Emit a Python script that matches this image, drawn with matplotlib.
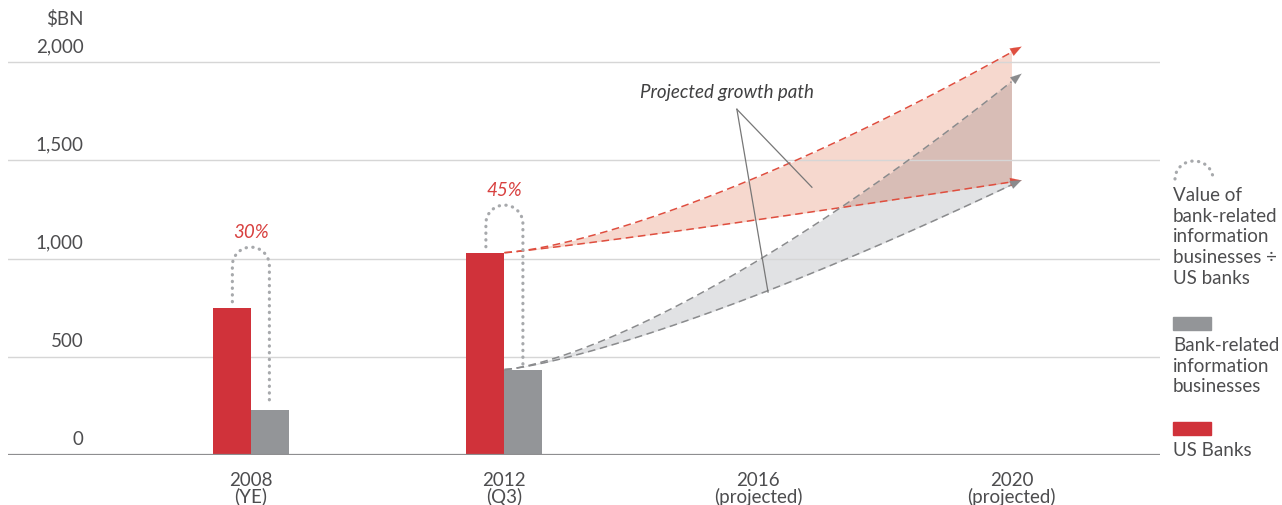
import numpy as np
import matplotlib.pyplot as plt

plt.rcParams['font.family'] = ['Lato', 'DejaVu Sans']

# data
years = ['2008\n(YE)', '2012\n(Q3)', '2016\n(projected)', '2020\n(projected)']
us_banks = [750, 1030]
info_biz = [230, 435]
ratio_labels = ['30%', '45%']
yticks = [0, 500, 1000, 1500, 2000]

# projected end points for 2020 (low, high)
red_proj = [1390, 2050]
gray_proj = [1375, 1900]

RED = '#D0323A'
GRAY = '#939598'
TXT = '#4D4D4F'
FS = 13.5

fig = plt.figure(figsize=(12.82, 5.06), dpi=100)
ax = fig.add_axes([8 / 1282, 50 / 506, 1152 / 1282, 442 / 506])
ax.set_xlim(-0.958, 3.586)
ax.set_ylim(0, 2250)
for s in ax.spines.values():
    s.set_visible(False)
ax.set_xticks([])
ax.set_yticks([])

# grid lines + labels above them
for v in yticks:
    if v == 0:
        ax.axhline(v, color='#8E8E90', lw=1.6, zorder=3)
    else:
        ax.axhline(v, color='#D6D6D6', lw=1.0, zorder=1)
    ax.text(-0.66, v + 40, f'{v:,}', ha='right', va='bottom', fontsize=FS, color=TXT)
ax.text(-0.66, 2180, '$BN', ha='right', va='bottom', fontsize=FS, color=TXT)

x = np.arange(len(years))
w = 0.15
ax.bar(x[:2] - w / 2, us_banks, width=w, color=RED, zorder=2)
ax.bar(x[:2] + w / 2, info_biz, width=w, color=GRAY, zorder=2)

for i, lab in enumerate(years):
    ax.text(x[i], -80, lab, ha='center', va='top', fontsize=FS, color=TXT, linespacing=0.93)

# dotted ratio connectors
hx = 0.073  # half width of arc in x units
ry = 94     # arc radius in y units
tops = [1058, 1272]
for i in range(2):
    cx = x[i]
    top = tops[i]
    th = np.linspace(np.pi, 0, 40)
    ax_ = cx + hx * np.cos(th)
    ay_ = (top - ry) + ry * np.sin(th)
    px = np.concatenate([[cx - hx], ax_, [cx + hx]])
    py = np.concatenate([[us_banks[i] + 30], ay_, [info_biz[i] + 25]])
    ax.plot(px, py, ls=(0, (0.1, 2.0)), lw=2.3, color='#A7A9AC',
            solid_capstyle='round', dash_capstyle='round', zorder=3)
    ax.text(x[i], top + 35, ratio_labels[i], ha='center', va='bottom',
            fontsize=FS, color='#D8403F', style='italic')

# projected growth paths
t = np.linspace(0, 1, 200)
x0, x1 = x[1], x[3]
xs = x0 + (x1 - x0) * t


def path(y0, y1, p, tt=t):
    return y0 + (y1 - y0) * tt ** p


red_lo = path(us_banks[1], red_proj[0], 1.1)
red_hi = path(us_banks[1], red_proj[1], 1.4)
gray_lo = path(info_biz[1], gray_proj[0], 1.3)
gray_hi = path(info_biz[1], gray_proj[1], 1.4)

ax.fill_between(xs, gray_lo, gray_hi, color='#E1E2E4', lw=0, zorder=0.5)
ax.fill_between(xs, red_lo, red_hi, color='#F6D8CE', lw=0, zorder=0.6)
ax.fill_between(xs, red_lo, gray_hi, where=gray_hi > red_lo, interpolate=True,
                color='#D8BDB6', lw=0, zorder=0.7)

curves = [(red_lo, us_banks[1], red_proj[0], 1.1, '#DF4E3F'),
          (red_hi, us_banks[1], red_proj[1], 1.4, '#DF4E3F'),
          (gray_lo, info_biz[1], gray_proj[0], 1.3, '#8A8B8D'),
          (gray_hi, info_biz[1], gray_proj[1], 1.4, '#8A8B8D')]
for yc, y0, y1, p, c in curves:
    ax.plot(xs, yc, ls=(0, (5, 3)), lw=1.1, color=c, zorder=2.5)
    ta, tb = 0.97, 1.02
    ax.annotate('', xy=(x0 + (x1 - x0) * tb, path(y0, y1, p, tb)),
                xytext=(x0 + (x1 - x0) * ta, path(y0, y1, p, ta)),
                arrowprops=dict(arrowstyle='-|>,head_length=0.8,head_width=0.3',
                                color=c, lw=0.1, shrinkA=0, shrinkB=0),
                zorder=2.6)

# annotation
ax.text(1.878, 1851, 'Projected growth path', ha='center', va='center',
        fontsize=FS, style='italic', color='#404041')
ax.plot([1.917, 2.213], [1760, 1363], color='#777777', lw=0.9, zorder=3)
ax.plot([1.917, 2.04], [1760, 829], color='#777777', lw=0.9, zorder=3)

# legend on the right
fx = 1173 / 1282
th = np.linspace(np.pi, 0, 30)
lx = 1194 + 19 * np.cos(th)
ly = 180 - 18 * np.sin(th)
fig.lines.append(plt.Line2D(lx / 1282, 1 - ly / 506, transform=fig.transFigure,
                            ls=(0, (0.1, 2.0)), lw=2.3, color='#A7A9AC',
                            dash_capstyle='round'))
fig.text(fx, 1 - 187 / 506, 'Value of\nbank-related\ninformation\nbusinesses ÷\nUS banks',
         ha='left', va='top', fontsize=FS, color=TXT, linespacing=1.26)
fig.patches.append(plt.Rectangle((fx, 1 - 331 / 506), 38 / 1282, 13 / 506,
                                 transform=fig.transFigure, color=GRAY))
fig.text(fx, 1 - 337 / 506, 'Bank-related\ninformation\nbusinesses',
         ha='left', va='top', fontsize=FS, color=TXT, linespacing=1.26)
fig.patches.append(plt.Rectangle((fx, 1 - 436 / 506), 38 / 1282, 13 / 506,
                                 transform=fig.transFigure, color=RED))
fig.text(fx, 1 - 442 / 506, 'US Banks', ha='left', va='top', fontsize=FS, color=TXT)

fig.savefig('out.png', dpi=100)
